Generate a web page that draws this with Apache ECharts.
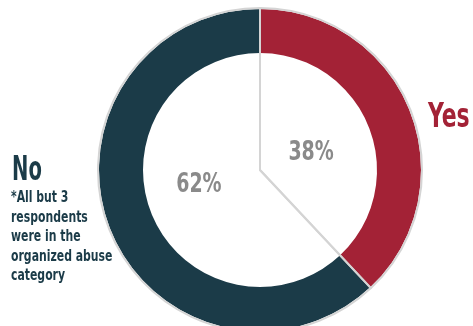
<!DOCTYPE html>
<html><head><meta charset="utf-8">
<script src="https://cdn.jsdelivr.net/npm/echarts@6/dist/echarts.min.js"></script>
<style>html,body{margin:0;padding:0;background:#fff}#c{width:473px;height:326px}</style>
</head><body><div id="c"></div>
<script>
const categories = ['Yes', 'No'];
const values = [38, 62];
const colors = ['#a32236', '#1b3b48'];
const footnote = ['*All but 3', 'respondents', 'were in the', 'organized abuse', 'category'];

const FONT = '"DejaVu Sans Condensed", "DejaVu Sans", sans-serif';
const CX = 260, CY = 170;
const chart = echarts.init(document.getElementById('c'));
const data = categories.map((c, i) => ({ name: c, value: values[i], itemStyle: { color: colors[i] } }));

const graphics = [
  { type: 'text', x: 12, y: 171, scaleX: 0.64,
    style: { text: 'No', font: 'bold 34px ' + FONT, fill: '#1b3b48', textAlign: 'left', textVerticalAlign: 'middle' } },
  { type: 'text', x: 428, y: 118, scaleX: 0.74,
    style: { text: 'Yes', font: 'bold 33px ' + FONT, fill: '#a32236', textAlign: 'left', textVerticalAlign: 'middle' } }
];
footnote.forEach((t, i) => {
  graphics.push({ type: 'text', x: 11, y: 198 + i * 19.5, scaleX: 0.78,
    style: { text: t, font: 'bold 15.5px ' + FONT, fill: '#1b3b48', textAlign: 'left', textVerticalAlign: 'middle' } });
});

// percentage labels placed along each slice's mid-angle (computed from the data)
const total = values.reduce((a, b) => a + b, 0);
const labelNudge = [[-1, 4], [-9, -6]];
let cum = 0;
values.forEach((v, i) => {
  const mid = (cum + v / 2) / total * Math.PI * 2;
  cum += v;
  const r = 56;
  graphics.push({ type: 'text', x: CX + r * Math.sin(mid) + labelNudge[i][0], y: CY - r * Math.cos(mid) + labelNudge[i][1], scaleX: 0.78,
    style: { text: v + '%', font: 'bold 27px ' + FONT, fill: '#8a8a8a', textAlign: 'center', textVerticalAlign: 'middle' } });
});

chart.setOption({
  animation: false,
  backgroundColor: '#fff',
  series: [
    {
      type: 'pie', center: [CX, CY], radius: [117, 161], startAngle: 90, clockwise: true,
      silent: true, label: { show: false }, labelLine: { show: false },
      data: data
    },
    {
      type: 'pie', center: [CX, CY], radius: [0, 162], startAngle: 90, clockwise: true, z: 3,
      silent: true, label: { show: false }, labelLine: { show: false },
      itemStyle: { color: 'rgba(0,0,0,0)', borderColor: '#d4d4d4', borderWidth: 2 },
      data: categories.map((c, i) => ({ name: c, value: values[i] }))
    }
  ],
  graphic: graphics
});
</script></body></html>
